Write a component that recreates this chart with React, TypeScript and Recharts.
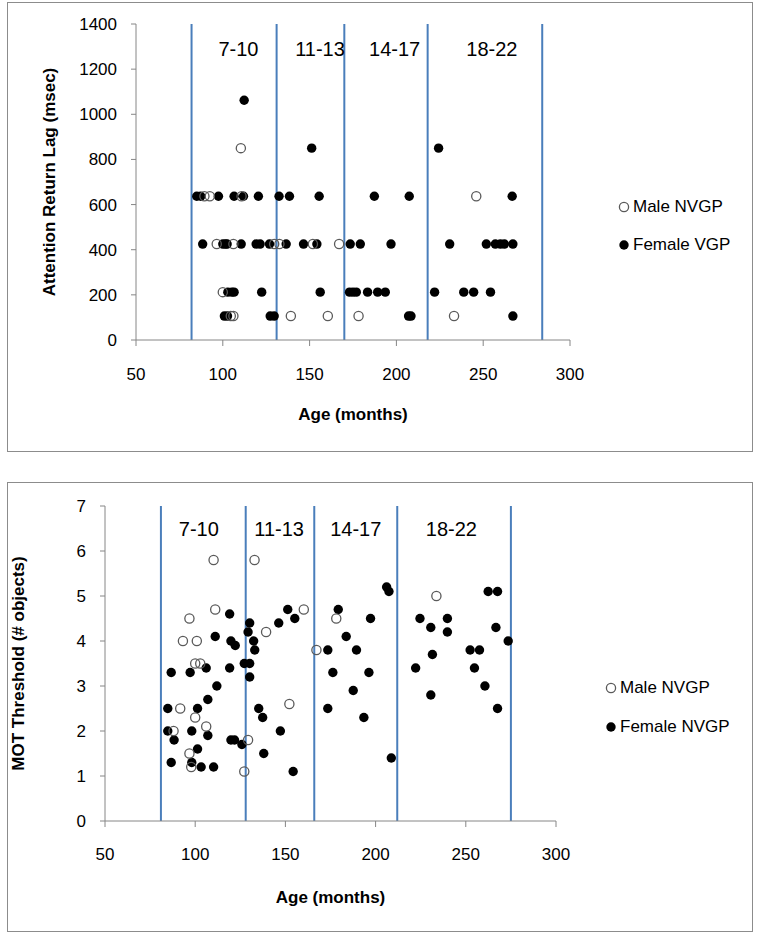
import React from 'react';
import { ScatterChart, Scatter, XAxis, YAxis, ReferenceLine, ReferenceDot } from 'recharts';

// shared axis / group info
const ageTicks = [50, 100, 150, 200, 250, 300];
const lagTicks = [0, 200, 400, 600, 800, 1000, 1200, 1400];
const motTicks = [0, 1, 2, 3, 4, 5, 6, 7];
const groupLabels = ['7-10', '11-13', '14-17', '18-22'];

// top chart: attention return lag
const lagBoundaries = [82, 131, 170, 218, 284];
const lagLabelAges = [109, 156, 199, 255];
const lagLabelLevel = 1288;

const lagMale: [number, number][] = [
  [89.4, 637], [92.5, 637], [110.8, 637], [246, 637],
  [110.4, 850],
  [96.5, 425], [106.1, 425], [129.6, 425], [132.6, 425], [151.9, 425], [167, 425],
  [100, 212],
  [104.6, 106], [106.1, 106], [139.2, 106], [160.5, 106], [178.2, 106], [233.2, 106],
];

const lagFemale: [number, number][] = [
  [85, 637], [87.3, 637], [97.5, 637], [106.5, 637], [111.9, 637], [120.5, 637], [132.4, 637],
  [138.4, 637], [155.5, 637], [187.3, 637], [207.4, 637], [266.7, 637],
  [112.3, 1062],
  [151.2, 850], [224.3, 850],
  [88.4, 425], [100, 425], [101.5, 425], [102.5, 425], [110.6, 425], [119.2, 425], [121.5, 425],
  [126.9, 425], [136.5, 425], [146.5, 425], [154.2, 425], [173.4, 425], [179.2, 425], [196.9, 425],
  [230.7, 425], [251.8, 425], [257, 425], [259.9, 425], [262.2, 425], [267.1, 425],
  [102.9, 212], [105.2, 212], [106.5, 212], [122.4, 212], [156.1, 212], [173, 212], [175, 212],
  [176.9, 212], [183.4, 212], [189.2, 212], [193.6, 212], [222, 212], [238.8, 212], [244.5, 212],
  [254.2, 212],
  [100.9, 106], [102.7, 106], [127.3, 106], [129.6, 106], [207, 106], [208.4, 106], [267.1, 106],
];

// bottom chart: MOT threshold
const motBoundaries = [81, 128, 166, 212, 275];
const motLabelAges = [102, 146.5, 189, 242];
const motLabelLevel = 6.5;

const motMale: [number, number][] = [
  [110.2, 5.8], [132.9, 5.8], [111.1, 4.7], [96.8, 4.5], [93.2, 4.0], [100.9, 4.0], [139.3, 4.2],
  [100, 3.5], [102.8, 3.5], [91.7, 2.5], [100, 2.3], [106.1, 2.1], [88, 2.0], [129.3, 1.8],
  [96.8, 1.5], [97.8, 1.2], [127.2, 1.1], [160.2, 4.7], [167.2, 3.8], [152.2, 2.6], [178.2, 4.5],
  [233.7, 5.0],
];

const motFemale: [number, number][] = [
  [119.1, 4.6], [130.2, 4.4], [129.3, 4.2], [111.1, 4.1], [119.8, 4.0], [122.2, 3.9], [132.4, 4.0],
  [133, 3.8], [86.7, 3.3], [97.2, 3.3], [106.1, 3.4], [119.1, 3.4], [127.2, 3.5], [130.2, 3.5],
  [130.2, 3.2], [112, 3.0], [107, 2.7], [84.8, 2.5], [101.3, 2.5], [135.2, 2.5], [137.4, 2.3],
  [84.8, 2.0], [98.1, 2.0], [88.3, 1.8], [107, 1.9], [119.8, 1.8], [121.8, 1.8], [125.9, 1.7],
  [138, 1.5], [101.3, 1.6], [86.7, 1.3], [98.1, 1.3], [103.3, 1.2], [110.2, 1.2],
  [146.3, 4.4], [151.3, 4.7], [155.2, 4.5], [147.2, 2.0], [154.3, 1.1],
  [173.5, 3.8], [176.3, 3.3], [173.5, 2.5], [179.3, 4.7], [183.7, 4.1], [189.4, 3.8], [187.6, 2.9],
  [196.3, 3.3], [197.2, 4.5], [193.5, 2.3], [206.1, 5.2], [207.4, 5.1], [208.7, 1.4],
  [224.6, 4.5], [230.6, 4.3], [239.8, 4.5], [239.8, 4.2], [231.5, 3.7], [222.2, 3.4], [230.6, 2.8],
  [262.4, 5.1], [267.6, 5.1], [266.7, 4.3], [273.5, 4.0], [252.4, 3.8], [257.6, 3.8], [254.8, 3.4],
  [260.6, 3.0], [267.6, 2.5],
];

const FONT = '"Liberation Sans", Arial, sans-serif';
const AXIS_GRAY = '#868686';
const LINE_BLUE = '#4a7ebb';

const toPoints = (arr: [number, number][]) => arr.map(([x, y]) => ({ x, y }));

const OpenDot = (p: any) => (
  <circle cx={p.cx} cy={p.cy} r={4.6} fill="none" stroke="#5a5a5a" strokeWidth={1.3} />
);
const FilledDot = (p: any) => <circle cx={p.cx} cy={p.cy} r={4.7} fill="#000" />;

const LegendItem = ({ x, y, filled, text }: any) => (
  <div
    style={{
      position: 'absolute',
      left: x - 6,
      top: y - 11,
      height: 22,
      display: 'flex',
      alignItems: 'center',
      fontFamily: FONT,
      fontSize: 17,
      color: '#000',
      whiteSpace: 'nowrap',
    }}
  >
    <svg width={12} height={12}>
      {filled ? (
        <circle cx={6} cy={6} r={4.7} fill="#000" />
      ) : (
        <circle cx={6} cy={6} r={4.6} fill="none" stroke="#5a5a5a" strokeWidth={1.3} />
      )}
    </svg>
    <span style={{ marginLeft: 3 }}>{text}</span>
  </div>
);

const Panel = ({
  height,
  margin,
  yTicks,
  yTitle,
  boundaries,
  labelAges,
  labelLevel,
  male,
  female,
  titleOffset,
  xTickMargin,
}: any) => (
  <ScatterChart width={765} height={height} margin={margin} style={{ fontFamily: FONT }}>
    <XAxis
      type="number"
      dataKey="x"
      domain={[50, 300]}
      ticks={ageTicks}
      height={80}
      stroke={AXIS_GRAY}
      tickSize={6}
      tickMargin={xTickMargin}
      tick={{ fill: '#000', fontSize: 17 }}
      label={{
        value: 'Age (months)',
        position: 'insideBottom',
        offset: titleOffset,
        fill: '#000',
        fontSize: 17,
        fontWeight: 'bold',
      }}
    />
    <YAxis
      type="number"
      dataKey="y"
      domain={[yTicks[0], yTicks[yTicks.length - 1]]}
      ticks={yTicks}
      width={100}
      stroke={AXIS_GRAY}
      tickSize={5}
      tickMargin={14}
      tick={{ fill: '#000', fontSize: 17 }}
      label={{
        value: yTitle,
        angle: -90,
        position: 'insideLeft',
        offset: 13,
        fill: '#000',
        fontSize: 17,
        fontWeight: 'bold',
        style: { textAnchor: 'middle' },
      }}
    />
    {boundaries.map((b: number) => (
      <ReferenceLine key={b} x={b} stroke={LINE_BLUE} strokeWidth={2} />
    ))}
    {labelAges.map((a: number, i: number) => (
      <ReferenceDot
        key={a}
        x={a}
        y={labelLevel}
        r={1}
        fill="none"
        stroke="none"
        ifOverflow="visible"
        label={{ value: groupLabels[i], position: 'center', fill: '#000', fontSize: 20 }}
      />
    ))}
    <Scatter data={toPoints(female)} shape={FilledDot} isAnimationActive={false} />
    <Scatter data={toPoints(male)} shape={OpenDot} isAnimationActive={false} />
  </ScatterChart>
);

export default function App() {
  return (
    <div
      style={{
        position: 'absolute',
        left: 0,
        top: 0,
        width: 765,
        height: 939,
        background: '#fff',
        overflow: 'hidden',
      }}
    >
      <div
        style={{
          position: 'absolute',
          left: 7,
          top: 2,
          width: 744,
          height: 448,
          border: '1.5px solid #8c8c8c',
        }}
      />
      <div
        style={{
          position: 'absolute',
          left: 7,
          top: 482,
          width: 744,
          height: 448,
          border: '1.5px solid #8c8c8c',
        }}
      />
      <div style={{ position: 'absolute', left: 0, top: 0 }}>
        <Panel
          height={460}
          margin={{ top: 24, right: 195, bottom: 40, left: 36 }}
          yTicks={lagTicks}
          yTitle="Attention Return Lag (msec)"
          boundaries={lagBoundaries}
          labelAges={lagLabelAges}
          labelLevel={lagLabelLevel}
          male={lagMale}
          female={lagFemale}
          titleOffset={0}
          xTickMargin={22}
        />
      </div>
      <div style={{ position: 'absolute', left: 0, top: 460 }}>
        <Panel
          height={479}
          margin={{ top: 46, right: 209, bottom: 38, left: 5 }}
          yTicks={motTicks}
          yTitle="MOT Threshold (# objects)"
          boundaries={motBoundaries}
          labelAges={motLabelAges}
          labelLevel={motLabelLevel}
          male={motMale}
          female={motFemale}
          titleOffset={-2}
          xTickMargin={21}
        />
      </div>
      <LegendItem x={624} y={207} filled={false} text="Male NVGP" />
      <LegendItem x={624} y={245} filled={true} text="Female VGP" />
      <LegendItem x={611} y={688} filled={false} text="Male NVGP" />
      <LegendItem x={611} y={727} filled={true} text="Female NVGP" />
    </div>
  );
}
